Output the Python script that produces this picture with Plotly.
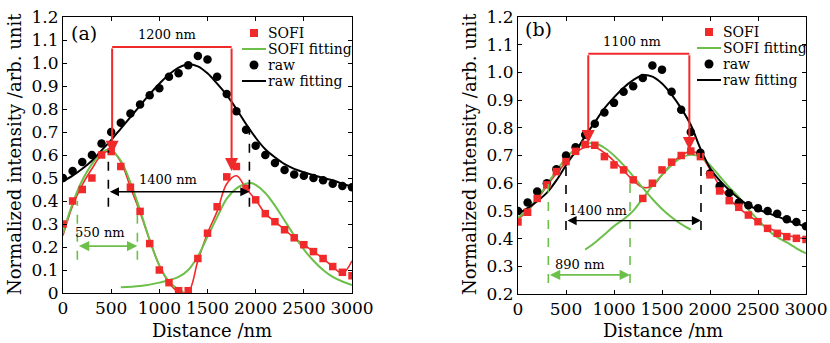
import plotly.graph_objects as go

# ---------------- data ----------------
x_pts = [0, 100, 200, 300, 400, 500, 600, 700, 800, 900, 1000, 1100, 1200, 1300, 1400, 1500,
         1600, 1700, 1800, 1900, 2000, 2100, 2200, 2300, 2400, 2500, 2600, 2700, 2800, 2900, 3000]

# panel (a)
a_raw = [0.50, 0.53, 0.57, 0.60, 0.65, 0.70, 0.74, 0.78, 0.82, 0.86, 0.89, 0.94, 0.955, 0.99, 1.03, 1.015,
         0.94, 0.865, 0.79, 0.71, 0.64, 0.60, 0.565, 0.535, 0.515, 0.51, 0.50, 0.49, 0.475, 0.465, 0.46]
a_sofi = [0.30, 0.40, 0.45, 0.50, 0.60, 0.615, 0.55, 0.46, 0.355, 0.215, 0.10, 0.045, 0.01, 0.01, 0.15, 0.26,
          0.375, 0.505, 0.55, 0.455, 0.405, 0.345, 0.31, 0.275, 0.24, 0.21, 0.18, 0.15, 0.115, 0.09, 0.075]
a_sofi_line = [0.25, 0.38, 0.47, 0.54, 0.60, 0.62, 0.57, 0.46, 0.35, 0.23, 0.12, 0.045, 0.005, 0.005, 0.14, 0.26,
               0.355, 0.475, 0.51, 0.455, 0.405, 0.345, 0.31, 0.275, 0.24, 0.21, 0.18, 0.15, 0.115, 0.085, 0.14]
a_raw_fit = [0.485, 0.51, 0.54, 0.575, 0.62, 0.665, 0.715, 0.765, 0.815, 0.865, 0.91, 0.95, 0.98, 0.995, 0.985, 0.955,
             0.91, 0.86, 0.80, 0.735, 0.675, 0.625, 0.59, 0.56, 0.54, 0.525, 0.512, 0.50, 0.49, 0.475, 0.462]
a_fit1_x = [0, 100, 200, 300, 400, 450, 500, 600, 700, 800, 900, 1000, 1100, 1200, 1250]
a_fit1 = [0.26, 0.39, 0.49, 0.56, 0.61, 0.622, 0.62, 0.575, 0.48, 0.36, 0.23, 0.12, 0.05, 0.015, 0.005]
a_fit2_x = [600, 800, 1000, 1200, 1300, 1400, 1500, 1600, 1700, 1800, 1900, 1950, 2000, 2100, 2200, 2300,
            2400, 2500, 2600, 2700, 2800, 2900, 3000]
a_fit2 = [0.025, 0.03, 0.045, 0.07, 0.10, 0.16, 0.245, 0.33, 0.41, 0.455, 0.475, 0.478, 0.47, 0.435, 0.38, 0.315,
          0.25, 0.19, 0.14, 0.10, 0.07, 0.05, 0.035]

# panel (b)
b_raw = [0.50, 0.53, 0.57, 0.60, 0.65, 0.70, 0.73, 0.775, 0.815, 0.855, 0.89, 0.93, 0.95, 0.98, 1.025, 1.01,
         0.93, 0.865, 0.785, 0.71, 0.635, 0.59, 0.565, 0.53, 0.52, 0.51, 0.50, 0.49, 0.47, 0.46, 0.445]
b_sofi = [0.46, 0.495, 0.545, 0.594, 0.642, 0.678, 0.715, 0.74, 0.737, 0.696, 0.666, 0.648, 0.612, 0.545, 0.60, 0.648,
          0.676, 0.70, 0.716, 0.696, 0.63, 0.572, 0.537, 0.513, 0.485, 0.461, 0.437, 0.419, 0.407, 0.401, 0.397]
b_sofi_line = [0.47, 0.50, 0.54, 0.59, 0.635, 0.675, 0.71, 0.73, 0.73, 0.71, 0.68, 0.645, 0.61, 0.585, 0.59, 0.63,
               0.67, 0.70, 0.715, 0.70, 0.65, 0.59, 0.545, 0.51, 0.485, 0.46, 0.44, 0.425, 0.413, 0.405, 0.40]
b_raw_fit = [0.49, 0.51, 0.535, 0.565, 0.61, 0.665, 0.715, 0.77, 0.82, 0.87, 0.91, 0.945, 0.972, 0.99, 0.985, 0.96,
             0.92, 0.87, 0.81, 0.725, 0.655, 0.61, 0.575, 0.545, 0.52, 0.505, 0.493, 0.48, 0.467, 0.455, 0.443]
b_fit1_x = [0, 100, 200, 300, 400, 500, 600, 700, 800, 900, 1000, 1100, 1200, 1300, 1400, 1500, 1600, 1700, 1800]
b_fit1 = [0.475, 0.505, 0.545, 0.595, 0.645, 0.69, 0.725, 0.742, 0.744, 0.728, 0.70, 0.665, 0.625, 0.583, 0.543,
          0.507, 0.477, 0.452, 0.432]
b_fit2_x = [700, 800, 900, 1000, 1100, 1200, 1300, 1400, 1500, 1600, 1700, 1800, 1900, 2000, 2100, 2200, 2300,
            2400, 2500, 2600, 2700, 2800, 2900, 3000]
b_fit2 = [0.36, 0.385, 0.415, 0.445, 0.47, 0.50, 0.545, 0.59, 0.63, 0.665, 0.692, 0.703, 0.695, 0.665, 0.625, 0.585,
          0.55, 0.505, 0.468, 0.432, 0.405, 0.386, 0.365, 0.347]

# measurement marks
a_red_x = [510, 1750]; a_red_top = 1.07; a_red_tip = [0.605, 0.53]
a_blk_x = [471, 1935]; a_blk_top = [0.62, 0.71]; a_blk_bot = 0.375; a_blk_arrow_y = 0.44
a_grn_x = [149, 772]; a_grn_top = 0.40; a_grn_bot = 0.145; a_grn_arrow_y = 0.204
b_red_x = [732, 1785]; b_red_top = 1.067; b_red_tip = [0.745, 0.72]
b_blk_x = [500, 1906]; b_blk_top = [0.666, 0.72]; b_blk_bot = 0.431; b_blk_arrow_y = 0.465
b_grn_x = [316, 1167]; b_grn_top = 0.60; b_grn_bot = 0.24; b_grn_arrow_y = 0.269

x_ticks = [0, 500, 1000, 1500, 2000, 2500, 3000]
a_y_ticks = [0, 0.1, 0.2, 0.3, 0.4, 0.5, 0.6, 0.7, 0.8, 0.9, 1.0, 1.1, 1.2]
a_y_labels = ["0", "0.1", "0.2", "0.3", "0.4", "0.5", "0.6", "0.7", "0.8", "0.9", "1.0", "1.1", "1.2"]
b_y_ticks = [0.2, 0.3, 0.4, 0.5, 0.6, 0.7, 0.8, 0.9, 1.0, 1.1, 1.2]
b_y_labels = ["0.2", "0.3", "0.4", "0.5", "0.6", "0.7", "0.8", "0.9", "1.0", "1.1", "1.2"]
legend_names = ["SOFI", "SOFI fitting", "raw", "raw fitting"]

RED = "#f02a2a"
GREEN = "#6cc04a"
FONT = "DejaVu Serif"
W, H = 830, 343

fig = go.Figure()


def add_panel(xa, ya, raw, sofi, sofi_line, raw_fit, f1x, f1, f2x, f2):
    fig.add_trace(go.Scatter(x=x_pts, y=sofi_line, mode="lines", line=dict(color=RED, width=1.6, shape="spline"),
                             xaxis=xa, yaxis=ya, hoverinfo="skip"))
    fig.add_trace(go.Scatter(x=f1x, y=f1, mode="lines", line=dict(color=GREEN, width=2, shape="spline"),
                             name="SOFI fitting", xaxis=xa, yaxis=ya))
    fig.add_trace(go.Scatter(x=f2x, y=f2, mode="lines", line=dict(color=GREEN, width=2, shape="spline"),
                             name="SOFI fitting", xaxis=xa, yaxis=ya))
    fig.add_trace(go.Scatter(x=x_pts, y=raw_fit, mode="lines", line=dict(color="black", width=2, shape="spline"),
                             name="raw fitting", xaxis=xa, yaxis=ya))
    fig.add_trace(go.Scatter(x=x_pts, y=raw, mode="markers", marker=dict(color="black", size=8.5, symbol="circle"),
                             name="raw", xaxis=xa, yaxis=ya))
    fig.add_trace(go.Scatter(x=x_pts, y=sofi, mode="markers", marker=dict(color=RED, size=7.5, symbol="square"),
                             name="SOFI", xaxis=xa, yaxis=ya))


add_panel("x", "y", a_raw, a_sofi, a_sofi_line, a_raw_fit, a_fit1_x, a_fit1, a_fit2_x, a_fit2)
add_panel("x2", "y2", b_raw, b_sofi, b_sofi_line, b_raw_fit, b_fit1_x, b_fit1, b_fit2_x, b_fit2)

shapes = []
annotations = []


def marks(xr, yr, red_x, red_top, red_tip, blk_x, blk_top, blk_bot, blk_y, grn_x, grn_top, grn_bot, grn_y,
          red_label, red_lx, red_ly, blk_label, blk_lx, blk_ly, grn_label, grn_lx, grn_ly):
    shapes.append(dict(type="line", xref=xr, yref=yr, x0=red_x[0], x1=red_x[1], y0=red_top, y1=red_top,
                       line=dict(color=RED, width=2)))
    for i in range(2):
        annotations.append(dict(xref=xr, yref=yr, axref=xr, ayref=yr, x=red_x[i], y=red_tip[i],
                                ax=red_x[i], ay=red_top, text="", showarrow=True, arrowhead=2,
                                arrowsize=1.3, arrowwidth=2, arrowcolor=RED))
        shapes.append(dict(type="line", xref=xr, yref=yr, x0=blk_x[i], x1=blk_x[i], y0=blk_bot, y1=blk_top[i],
                           line=dict(color="black", width=1.6, dash="dash")))
        shapes.append(dict(type="line", xref=xr, yref=yr, x0=grn_x[i], x1=grn_x[i], y0=grn_bot, y1=grn_top,
                           line=dict(color=GREEN, width=1.6, dash="dash")))
    annotations.append(dict(xref=xr, yref=yr, axref=xr, ayref=yr, x=blk_x[1], y=blk_y, ax=blk_x[0], ay=blk_y,
                            text="", showarrow=True, arrowhead=2, arrowside="end+start", arrowsize=1.3,
                            arrowwidth=1.4, arrowcolor="black"))
    annotations.append(dict(xref=xr, yref=yr, axref=xr, ayref=yr, x=grn_x[1], y=grn_y, ax=grn_x[0], ay=grn_y,
                            text="", showarrow=True, arrowhead=2, arrowside="end+start", arrowsize=1.3,
                            arrowwidth=1.6, arrowcolor=GREEN))
    for t, lx, ly in [(red_label, red_lx, red_ly), (blk_label, blk_lx, blk_ly), (grn_label, grn_lx, grn_ly)]:
        annotations.append(dict(xref=xr, yref=yr, x=lx, y=ly, text=t, showarrow=False,
                                xanchor="center", yanchor="middle",
                                font=dict(family=FONT, size=13, color="black")))


marks("x", "y", a_red_x, a_red_top, a_red_tip, a_blk_x, a_blk_top, a_blk_bot, a_blk_arrow_y,
      a_grn_x, a_grn_top, a_grn_bot, a_grn_arrow_y,
      "1200 nm", 1077, 1.122, "1400 nm", 1094, 0.494, "550 nm", 384, 0.262)
marks("x2", "y2", b_red_x, b_red_top, b_red_tip, b_blk_x, b_blk_top, b_blk_bot, b_blk_arrow_y,
      b_grn_x, b_grn_top, b_grn_bot, b_grn_arrow_y,
      "1100 nm", 1185, 1.111, "1400 nm", 836, 0.503, "890 nm", 646, 0.307)


def px(xp, yp):
    return xp / W, 1 - yp / H


def legend_block(sym_x, text_x, row0, step=16):
    rows = [row0 + i * step for i in range(4)]
    # SOFI square
    x0, y0 = px(sym_x - 4, rows[0] - 4)
    x1, y1 = px(sym_x + 4, rows[0] + 4)
    shapes.append(dict(type="rect", xref="paper", yref="paper", x0=x0, x1=x1, y0=y0, y1=y1,
                       fillcolor=RED, line=dict(width=0)))
    # SOFI fitting line
    x0, y0 = px(sym_x - 12, rows[1])
    x1, _ = px(sym_x + 12, rows[1])
    shapes.append(dict(type="line", xref="paper", yref="paper", x0=x0, x1=x1, y0=y0, y1=y0,
                       line=dict(color=GREEN, width=2)))
    # raw dot
    x0, y0 = px(sym_x - 4.5, rows[2] - 4.5)
    x1, y1 = px(sym_x + 4.5, rows[2] + 4.5)
    shapes.append(dict(type="circle", xref="paper", yref="paper", x0=x0, x1=x1, y0=y0, y1=y1,
                       fillcolor="black", line=dict(width=0)))
    # raw fitting line
    x0, y0 = px(sym_x - 12, rows[3])
    x1, _ = px(sym_x + 12, rows[3])
    shapes.append(dict(type="line", xref="paper", yref="paper", x0=x0, x1=x1, y0=y0, y1=y0,
                       line=dict(color="black", width=2)))
    for name, r in zip(legend_names, rows):
        tx, ty = px(text_x, r)
        annotations.append(dict(xref="paper", yref="paper", x=tx, y=ty, text=name, showarrow=False,
                                xanchor="left", yanchor="middle", font=dict(family=FONT, size=14, color="black")))


legend_block(254, 266, 33)
legend_block(709, 721, 32)

paper_text = dict(xref="paper", yref="paper", showarrow=False, xanchor="center", yanchor="middle")
annotations.append(dict(x=84 / W, y=1 - 33 / H, text="(a)", font=dict(family=FONT, size=19, color="black"),
                        **paper_text))
annotations.append(dict(x=538 / W, y=1 - 29 / H, text="(b)", font=dict(family=FONT, size=19, color="black"),
                        **paper_text))
for tx in [14, 469]:
    annotations.append(dict(x=tx / W, y=1 - 154 / H, textangle=-90, text="Normalized intensity /arb. unit",
                            font=dict(family=FONT, size=18, color="black"), **paper_text))
for tx in [212, 663]:
    annotations.append(dict(x=tx / W, y=1 - 330 / H, text="Distance /nm",
                            font=dict(family=FONT, size=18, color="black"), **paper_text))

axis_common = dict(showline=True, linecolor="black", linewidth=1, mirror="ticks", ticks="inside", ticklen=4,
                   tickcolor="black", showgrid=False, zeroline=False, automargin=False,
                   tickfont=dict(family=FONT, size=17, color="black"))

fig.update_layout(
    width=W, height=H, margin=dict(l=0, r=0, t=0, b=0),
    paper_bgcolor="white", plot_bgcolor="white", showlegend=False,
    xaxis=dict(domain=[63 / W, 352 / W], range=[0, 3000], tickvals=x_ticks, anchor="y", **axis_common),
    yaxis=dict(domain=[1 - 293 / H, 1 - 17 / H], range=[0, 1.2], tickvals=a_y_ticks, ticktext=a_y_labels,
               anchor="x", **axis_common),
    xaxis2=dict(domain=[518 / W, 806 / W], range=[0, 3000], tickvals=x_ticks, anchor="y2", **axis_common),
    yaxis2=dict(domain=[1 - 294 / H, 1 - 17 / H], range=[0.2, 1.2], tickvals=b_y_ticks, ticktext=b_y_labels,
                anchor="x2", **axis_common),
    shapes=shapes, annotations=annotations,
)

fig.write_html("out.html", config={"displayModeBar": False},
               post_script="document.body.style.margin='0px';")
